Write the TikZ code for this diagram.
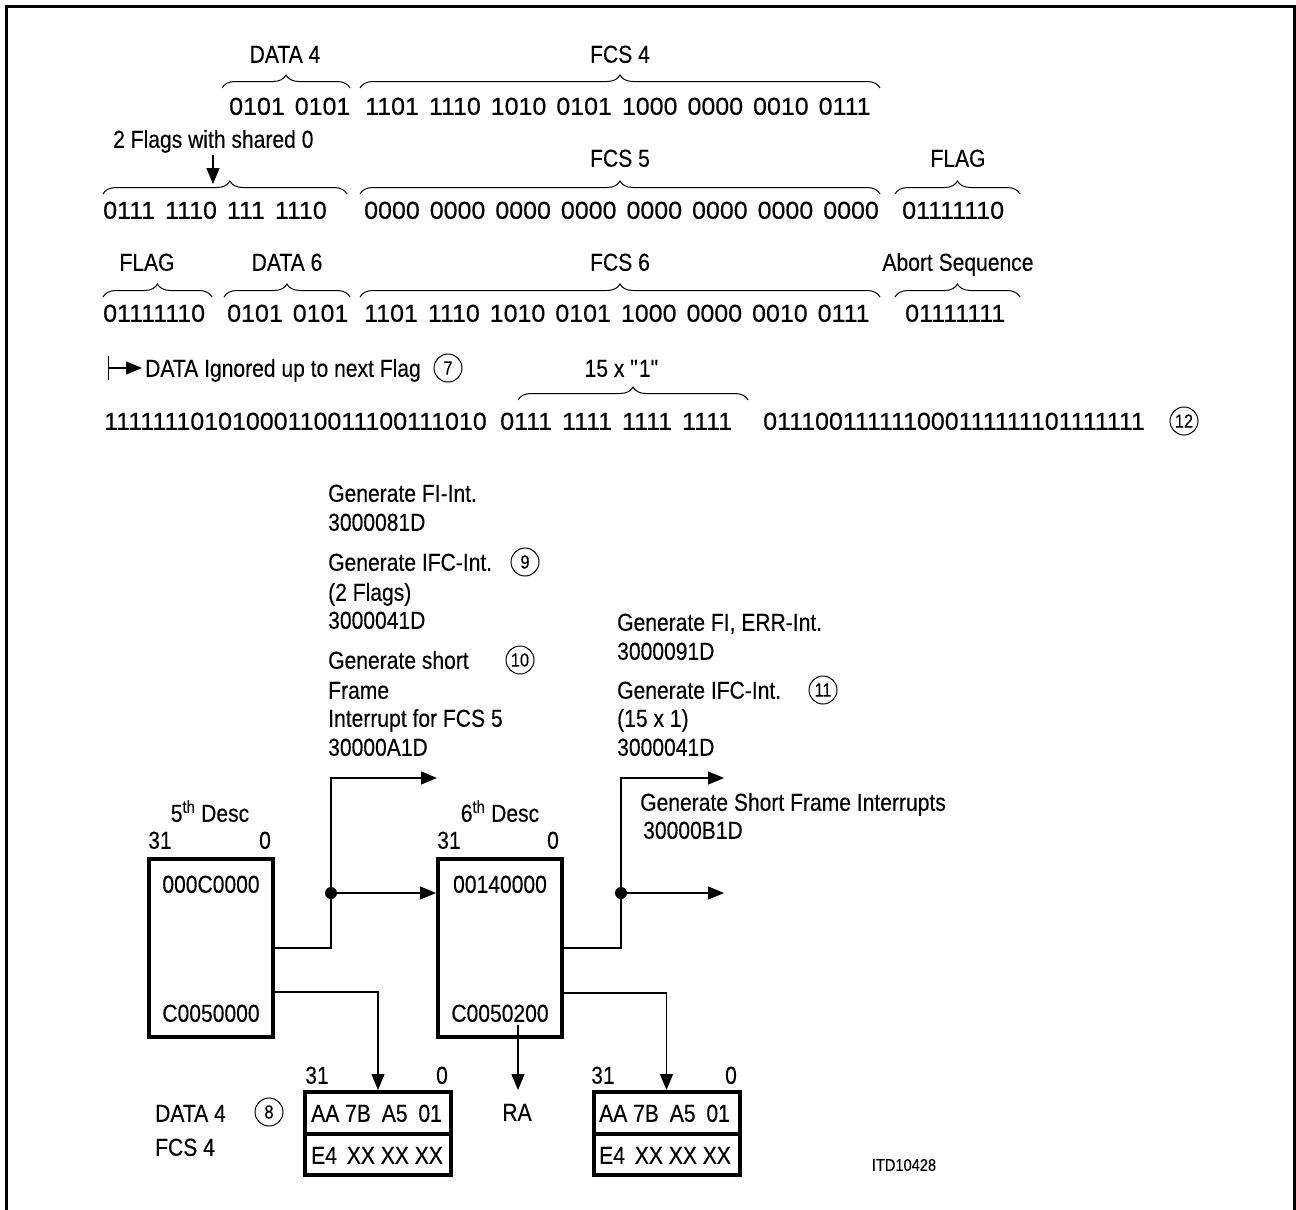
\documentclass[tikz,border=0pt]{standalone}
\usepackage{fontspec}
\setmainfont{Liberation Sans}[FakeStretch=0.86,FakeBold=0.25]
\newfontfamily\bitsfont{Liberation Sans}[FakeStretch=1.02,FakeBold=0.25]
\usetikzlibrary{arrows.meta,decorations.pathreplacing}
\newcommand\bgp{\hspace{10bp}}
\begin{document}
\begin{tikzpicture}[x=1bp,y=-1bp,
  lbl/.style={inner sep=0pt,text height=17.5bp,text depth=0bp,font=\fontsize{24.5bp}{29bp}\selectfont},
  lblw/.style={lbl,anchor=west},
  bits/.style={inner sep=0pt,text height=17.5bp,text depth=0bp,anchor=west,font=\bitsfont\fontsize{24.5bp}{29bp}\selectfont},
  circnum/.style={draw,circle,line width=1bp,minimum size=28bp,inner sep=0pt,font=\fontsize{19bp}{21bp}\selectfont},
  conn/.style={line width=1.3bp},
  arr/.style={conn,-{Triangle[length=16bp,width=13bp]}},
  dbox/.style={draw,line width=4bp,inner sep=0pt},
  brc/.style={decorate,decoration={brace,amplitude=13bp},line width=1bp},
  dotc/.style={circle,fill,inner sep=0pt,minimum size=12bp}]
\useasboundingbox (0,0) rectangle (1296,1210);
% frame
\draw[line width=3bp] (6,1212) -- (6,6) -- (1294,6) -- (1294,1212);

% ---------- row 1
\node[lbl] (l1a) at (285,54) {DATA 4};
\node[lbl] (l1b) at (620,54) {FCS 4};
\draw[brc] (222,88) -- (350,88);
\draw[brc] (360,88) -- (880,88);
\node[bits] (b1a) at (229,106) {0101\bgp0101};
\node[bits] (b1b) at (365,106) {1101\bgp1110\bgp1010\bgp0101\bgp1000\bgp0000\bgp0010\bgp0111};

% ---------- row 2
\node[lblw] (l2a) at (113,139) {2 Flags with shared 0};
\coordinate (a2s) at (213,155);
\coordinate (a2e) at (213,184);
\draw[arr] (a2s) -- (a2e);
\draw[brc,decoration={aspect=0.52}] (103,194) -- (347,194);
\node[lbl] (l2b) at (620,158) {FCS 5};
\draw[brc] (360,194) -- (880,194);
\node[lbl] (l2c) at (958,158) {FLAG};
\draw[brc] (895,194) -- (1020,194);
\node[bits] (b2a) at (103,210) {0111\bgp1110\bgp111\bgp1110};
\node[bits] (b2b) at (364,210) {0000\bgp0000\bgp0000\bgp0000\bgp0000\bgp0000\bgp0000\bgp0000};
\node[bits] (b2c) at (902,210) {01111110};

% ---------- row 3
\node[lbl] (l3a) at (147,262) {FLAG};
\node[lbl] (l3b) at (287,262) {DATA 6};
\node[lbl] (l3c) at (620,262) {FCS 6};
\node[lbl] (l3d) at (958,262) {Abort Sequence};
\draw[brc] (103,297) -- (212,297);
\draw[brc] (224,297) -- (350,297);
\draw[brc] (360,297) -- (880,297);
\draw[brc] (895,297) -- (1020,297);
\node[bits] (b3a) at (103,313) {01111110};
\node[bits] (b3b) at (227,313) {0101\bgp0101};
\node[bits] (b3c) at (364,313) {1101\bgp1110\bgp1010\bgp0101\bgp1000\bgp0000\bgp0010\bgp0111};
\node[bits] (b3d) at (905,313) {01111111};

% ---------- row 4 / 5
\coordinate (a4s) at (108,368);
\coordinate (a4e) at (142,368);
\draw[conn,{Bar[width=24bp]}-{Triangle[length=16bp,width=13bp]}] (a4s) -- (a4e);
\node[lblw] (l4a) at (145,368) {DATA Ignored up to next Flag};
\node[circnum] (c7) at (448,368) {7};
\node[lbl] (l4b) at (622,368) {15 x \textquotedbl 1\textquotedbl};
\draw[brc] (518,400) -- (748,400);
\node[bits] (b5a) at (104,421) {11111110101000110011100111010};
\node[bits] (b5b) at (500,421) {0111\bgp1111\bgp1111\bgp1111};
\node[bits] (b5c) at (763,421) {011100111111000111111101111111};
\node[circnum] (c12) at (1184,421) {12};

% ---------- interrupt texts (middle)
\node[lblw] (m1) at (328,493) {Generate FI-Int.};
\node[lblw] (m2) at (328,522) {3000081D};
\node[lblw] (m3) at (328,562) {Generate IFC-Int.};
\node[circnum] (c9) at (525,562) {9};
\node[lblw] (m4) at (328,592) {(2 Flags)};
\node[lblw] (m5) at (328,620) {3000041D};
\node[lblw] (m6) at (328,660) {Generate short};
\node[circnum] (c10) at (520,660) {10};
\node[lblw] (m7) at (328,690) {Frame};
\node[lblw] (m8) at (328,718) {Interrupt for FCS 5};
\node[lblw] (m9) at (328,747) {30000A1D};

% ---------- interrupt texts (right)
\node[lblw] (r1) at (617,622) {Generate FI, ERR-Int.};
\node[lblw] (r2) at (617,651) {3000091D};
\node[lblw] (r3) at (617,690) {Generate IFC-Int.};
\node[circnum] (c11) at (823,690) {11};
\node[lblw] (r4) at (617,718) {(15 x 1)};
\node[lblw] (r5) at (617,747) {3000041D};
\node[lblw] (r6) at (640,802) {Generate Short Frame Interrupts};
\node[lblw] (r7) at (643,830) {30000B1D};

% ---------- descriptors
\node[dbox,minimum width=124bp,minimum height=178bp] (d5) at (211,948) {};
\node[lbl] (d5t) at (210,813) {5\textsuperscript{th} Desc};
\node[lbl] (d5h) at (160,840) {31};
\node[lbl] (d5l) at (265,840) {0};
\node[lbl] (d5a) at (211,884) {000C0000};
\node[lbl] (d5b) at (211,1013) {C0050000};

\node[dbox,minimum width=124bp,minimum height=178bp] (d6) at (500,948) {};
\node[lbl] (d6t) at (500,813) {6\textsuperscript{th} Desc};
\node[lbl] (d6h) at (449,840) {31};
\node[lbl] (d6l) at (553,840) {0};
\node[lbl] (d6a) at (500,884) {00140000};
\node[lbl] (d6b) at (500,1013) {C0050200};

% ---------- data buffers
\node[dbox,minimum width=146bp,minimum height=83bp] (m5b) at (378,1133.5) {};
\draw[line width=4bp] (m5b.west) -- (m5b.east);
\node[lbl] (m5h) at (317,1075) {31};
\node[lbl] (m5l) at (442,1075) {0};
\node[lblw] (m5x) at (311,1113) {AA 7B\hspace{5bp} A5\hspace{5bp} 01};
\node[lblw] (m5y) at (311,1155) {E4\hspace{4bp} XX XX XX};

\node[dbox,minimum width=146bp,minimum height=83bp] (m6b) at (666.5,1133.5) {};
\draw[line width=4bp] (m6b.west) -- (m6b.east);
\node[lbl] (m6h) at (603,1075) {31};
\node[lbl] (m6l) at (731,1075) {0};
\node[lblw] (m6x) at (599,1113) {AA 7B\hspace{5bp} A5\hspace{5bp} 01};
\node[lblw] (m6y) at (599,1155) {E4\hspace{4bp} XX XX XX};

\node[lblw] (dl1) at (155,1113) {DATA 4};
\node[lblw] (dl2) at (155,1147) {FCS 4};
\node[circnum] (c8) at (269,1112) {8};
\node[inner sep=0pt,font=\fontsize{17bp}{20bp}\selectfont] (itd) at (904,1165) {ITD10428};

% ---------- connectors
\coordinate (j5) at (331,893);
\coordinate (j6) at (621,893);
\coordinate (t5) at (437,778);
\coordinate (t6a) at (724,778);
\coordinate (t6b) at (724,893);
\draw[arr] (d5.east |- 0,948) -| (t5 -| j5) -- (t5);
\draw[arr] (j5) -- (d6.west |- j5);
\node[dotc] at (j5) {};
\draw[arr] (d5.east |- 0,992) -| (m5b.north);

\draw[arr] (d6.east |- 0,948) -| (t6a -| j6) -- (t6a);
\draw[arr] (j6) -- (t6b);
\node[dotc] at (j6) {};
\draw[arr] (d6.east |- 0,993) -| (m6b.north);

\coordinate (ra0) at (518,1025);
\node[lbl] (ra) at (517,1112) {RA};
\draw[arr,shorten >=13bp] (ra0) -- (ra.north -| ra0);
\end{tikzpicture}
\end{document}
